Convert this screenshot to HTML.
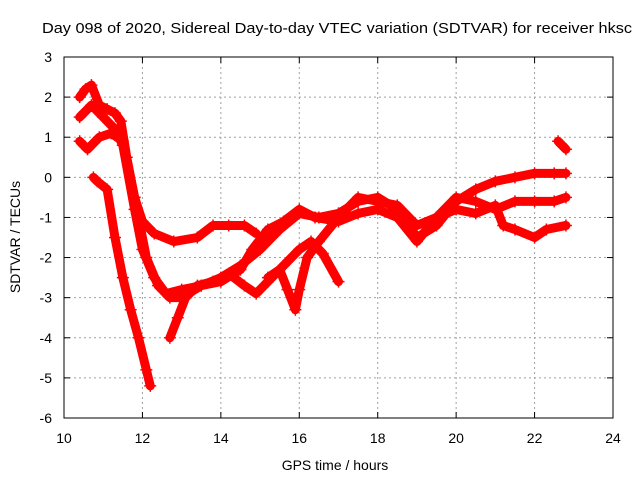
<!DOCTYPE html>
<html><head><meta charset="utf-8"><style>
body{margin:0;background:#fff}
svg{display:block;font-family:"Liberation Sans",sans-serif;font-size:14px}
</style></head><body>
<svg id="chart" width="640" height="480">
<text x="42" y="33" font-size="15" textLength="590" lengthAdjust="spacingAndGlyphs">Day 098 of 2020, Sidereal Day-to-day VTEC variation (SDTVAR) for receiver hksc</text>
<text x="335" y="470" text-anchor="middle">GPS time / hours</text>
<text transform="translate(20,237) rotate(-90)" text-anchor="middle">SDTVAR / TECUs</text>
<g id="grid"></g><g id="ticks"></g><g id="marks"></g>
<rect x="64" y="57" width="549" height="361" fill="none" stroke="#000"/>
</svg>
<script>
const xTicks=[10,12,14,16,18,20,22,24];
const yTicks=[3,2,1,0,-1,-2,-3,-4,-5,-6];
const seriesA=[[10.4,2.0],[10.55,2.2],[10.7,2.3],[10.9,1.8],[11.1,1.7],[11.3,1.6],[11.45,1.4],[11.6,0.5],[11.8,-0.5],[12.0,-1.1],[12.3,-1.4],[12.8,-1.6],[13.4,-1.5],[13.8,-1.2],[14.2,-1.2],[14.6,-1.2],[14.9,-1.4]];
const seriesB=[[10.4,1.5],[10.7,1.8],[11.0,1.5],[11.3,1.2],[11.5,0.8],[11.8,-0.8],[12.0,-1.8],[12.3,-2.5],[12.6,-2.9],[13.0,-2.8],[13.5,-2.7],[14.0,-2.5],[14.5,-2.2],[15.0,-1.8],[15.5,-1.3],[16.0,-0.9],[16.5,-1.0],[17.0,-0.9],[17.5,-0.6],[18.0,-0.5],[18.5,-0.8],[19.0,-1.5],[19.5,-1.2],[20.0,-0.6],[20.5,-0.3],[21.0,-0.1],[21.5,0.0],[22.0,0.1],[22.5,0.1],[22.8,0.1]];
const seriesC=[[10.4,0.9],[10.6,0.7],[10.9,1.0],[11.2,1.1],[11.5,0.9],[11.8,-0.5],[12.1,-2.0],[12.4,-2.7],[12.7,-3.0],[13.0,-3.0],[13.5,-2.7],[14.0,-2.6],[14.5,-2.3],[14.8,-1.8],[15.2,-1.3],[15.6,-1.1],[16.0,-0.8],[16.4,-1.0],[17.0,-1.1],[17.5,-0.9],[18.0,-0.8],[18.5,-1.0],[19.0,-1.6],[19.5,-1.0],[20.0,-0.5],[20.5,-0.6],[21.0,-0.8],[21.5,-0.6],[22.0,-0.6],[22.5,-0.6],[22.8,-0.5]];
const seriesD=[[10.75,0.0],[10.85,-0.1],[11.1,-0.3],[11.3,-1.5],[11.5,-2.5],[11.7,-3.3],[11.9,-4.0],[12.1,-4.8],[12.2,-5.2]];
const seriesE=[[12.7,-4.0],[12.9,-3.5],[13.1,-3.0],[13.4,-2.7],[13.8,-2.6],[14.2,-2.4],[14.6,-2.7],[14.9,-2.9],[15.2,-2.6],[15.6,-2.2],[16.0,-1.8],[16.3,-1.6],[16.6,-1.9],[17.0,-2.6]];
const seriesF=[[15.2,-2.5],[15.5,-2.3],[15.7,-2.8],[15.9,-3.3],[16.0,-2.8],[16.2,-2.0],[16.5,-1.6],[17.0,-1.0],[17.5,-0.5],[18.0,-0.6],[18.5,-0.7],[19.0,-1.2],[19.5,-1.0],[20.0,-0.8],[20.5,-0.9],[21.0,-0.7],[21.2,-1.2],[21.5,-1.3],[22.0,-1.5],[22.3,-1.3],[22.8,-1.2]];
const seriesG=[[22.6,0.9],[22.7,0.8],[22.8,0.7]];
const allSeries=[seriesA,seriesB,seriesC,seriesD,seriesE,seriesF,seriesG];
const NS='http://www.w3.org/2000/svg';
const X=h=>64+(h-10)*549/14;
const Y=v=>57+(3-v)*361/9;
function mk(tag,attrs,parent){const e=document.createElementNS(NS,tag);for(const k in attrs)e.setAttribute(k,attrs[k]);parent.appendChild(e);return e;}
const grid=document.getElementById('grid'),ticks=document.getElementById('ticks'),marks=document.getElementById('marks');
xTicks.forEach(t=>{
 if(t>10&&t<24){const l=mk('line',{x1:X(t),x2:X(t),y1:57,y2:418,stroke:'#a0a0a0','stroke-dasharray':'2,3'},grid);
 
 }
 const tx=mk('text',{x:X(t),y:443,'text-anchor':'middle'},ticks);tx.textContent=t;
 
 
 mk('line',{x1:X(t),x2:X(t),y1:418,y2:412,stroke:'#000'},ticks);
 mk('line',{x1:X(t),x2:X(t),y1:57,y2:63,stroke:'#000'},ticks);
});
yTicks.forEach(t=>{
 if(t<3&&t>-6){const l=mk('line',{x1:64,x2:613,y1:Y(t),y2:Y(t),stroke:'#a0a0a0','stroke-dasharray':'2,3'},grid);
 
 }
 const tx=mk('text',{x:52,y:Y(t)+5,'text-anchor':'end'},ticks);tx.textContent=t;
 
 
 mk('line',{x1:64,x2:70,y1:Y(t),y2:Y(t),stroke:'#000'},ticks);
 mk('line',{x1:613,x2:607,y1:Y(t),y2:Y(t),stroke:'#000'},ticks);
});
allSeries.forEach((s,i)=>{
 const g=mk('g',{},marks);
 
 
 mk('polyline',{points:s.map(p=>X(p[0])+','+Y(p[1])).join(' '),fill:'none',stroke:'#f00','stroke-width':9,'stroke-linejoin':'round','stroke-linecap':'round'},g);
 s.forEach(p=>{const x=X(p[0]),y=Y(p[1]);
  const m=mk('path',{d:`M${x-6},${y}H${x+6}M${x},${y-6}V${y+6}`,stroke:'#f00','stroke-width':1.5},g);
  
  
 });
});
</script>
</body></html>
